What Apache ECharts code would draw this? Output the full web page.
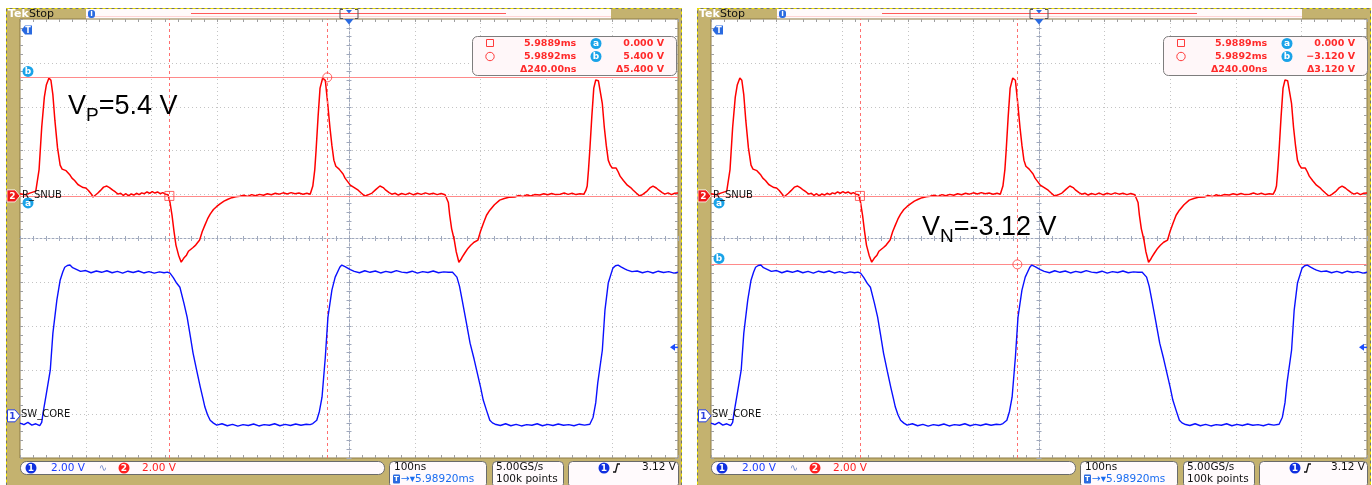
<!DOCTYPE html>
<html><head><meta charset="utf-8">
<script src="https://cdn.jsdelivr.net/npm/echarts@6/dist/echarts.min.js"></script>
<style>html,body{margin:0;padding:0;background:#fff}#c{width:1372px;height:485px}</style>
</head><body><div id="c"></div>
<script>
// ================= DATA =================
// Channel 2 (R_SNUB) samples: [time in ns relative to trigger, volts]
const rSnubSamples = [[-500,0.10],[-492,0.05],[-484,0.14],[-476,0.22],[-471,1.2],[-467,3.13],[-463,4.5],[-460,5.05],[-456,5.37],[-453,5.27],[-450,4.6],[-447,3.45],[-443,2.2],[-439,1.40],[-436,1.22],[-433,1.30],[-430,1.15],[-427,1.20],[-424,0.95],[-421,0.81],[-417,0.70],[-412,0.52],[-408,0.45],[-404,0.38],[-400,0.36],[-396,0.25],[-392,0.10],[-389,-0.05],[-386,0.02],[-382,0.12],[-378,0.24],[-373,0.40],[-368,0.45],[-364,0.38],[-359,0.26],[-355,0.18],[-351,0.08],[-347,0.12],[-343,0.02],[-339,0.10],[-335,0.00],[-331,0.09],[-327,0.04],[-323,0.12],[-319,0.06],[-315,0.14],[-311,0.10],[-307,0.18],[-303,0.12],[-299,0.20],[-295,0.13],[-291,0.18],[-287,0.10],[-283,0.15],[-279,0.08],[-275,0.05],[-272,-0.30],[-269,-0.87],[-266,-1.6],[-263,-2.24],[-259,-2.70],[-255,-3.02],[-251,-2.83],[-247,-2.70],[-244,-2.52],[-241,-2.44],[-237,-2.35],[-233,-2.24],[-230,-2.15],[-227,-2.01],[-223,-1.62],[-219,-1.33],[-215,-1.05],[-211,-0.83],[-206,-0.62],[-201,-0.48],[-196,-0.36],[-190,-0.24],[-184,-0.15],[-178,-0.08],[-172,-0.04],[-166,-0.01],[-160,0.03],[-154,-0.02],[-148,0.06],[-142,0.01],[-136,0.07],[-130,0.03],[-124,0.10],[-118,0.05],[-112,0.12],[-106,0.08],[-100,0.14],[-94,0.09],[-88,0.15],[-82,0.10],[-76,0.13],[-70,0.08],[-64,0.12],[-59,0.08],[-55,0.45],[-52,1.2],[-50,2.09],[-47,3.6],[-44,4.91],[-40,5.37],[-36,5.27],[-33,4.4],[-29,3.13],[-26,2.3],[-23,1.63],[-20,1.35],[-18,1.27],[-15,1.22],[-12,1.18],[-9,1.0],[-6,0.81],[-2,0.65],[2,0.49],[8,0.38],[14,0.26],[19,0.12],[24,-0.01],[29,0.05],[35,0.13],[41,0.30],[47,0.45],[52,0.38],[56,0.26],[61,0.15],[65,0.08],[70,0.12],[75,0.04],[80,0.11],[86,0.06],[92,0.13],[98,0.05],[104,0.12],[110,0.07],[116,0.14],[122,0.08],[128,0.12],[134,0.06],[140,0.11],[146,0.05],[149,0.04],[151,-0.30],[153,-0.87],[156,-1.5],[160,-2.01],[163,-2.55],[167,-3.02],[170,-2.90],[172,-2.79],[176,-2.60],[181,-2.38],[185,-2.25],[190,-2.11],[193,-2.05],[196,-2.01],[200,-1.60],[205,-1.19],[209,-0.88],[214,-0.65],[221,-0.40],[229,-0.19],[236,-0.12],[243,-0.06],[252,-0.05],[258,0.02],[264,-0.03],[270,0.05],[276,0.00],[282,0.06],[290,0.04],[296,0.10],[302,0.05],[308,0.11],[314,0.06],[321,0.08],[327,0.13],[333,0.07],[339,0.12],[345,0.06],[351,0.10],[357,0.08],[360,0.25],[362,0.45],[364,1.2],[366,2.09],[369,3.6],[372,4.91],[375,5.28],[377,5.32],[379,5.25],[381,5.18],[385,4.2],[388,3.13],[391,2.3],[394,1.63],[397,1.40],[400,1.27],[403,1.22],[406,1.27],[409,1.10],[412,0.90],[417,0.70],[423,0.49],[428,0.38],[432,0.26],[437,0.12],[442,-0.01],[447,0.08],[453,0.22],[458,0.38],[462,0.45],[467,0.36],[471,0.26],[476,0.15],[480,0.08],[485,0.14],[490,0.06],[495,0.12],[500,0.13]];

// Channel 1 (SW_CORE) samples: [time in ns relative to trigger, volts]
const swCoreSamples = [[-500,-0.33],[-494,-0.40],[-488,-0.30],[-482,-0.42],[-476,-0.36],[-470,-0.45],[-467,-0.30],[-465,0.12],[-460,1.0],[-454,2.08],[-450,3.77],[-444,5.27],[-439,6.18],[-435,6.55],[-432,6.77],[-428,6.85],[-424,6.87],[-420,6.75],[-416,6.70],[-413,6.64],[-408,6.58],[-400,6.62],[-392,6.52],[-384,6.60],[-376,6.54],[-368,6.61],[-360,6.52],[-352,6.58],[-344,6.50],[-336,6.59],[-328,6.53],[-320,6.60],[-312,6.51],[-304,6.57],[-296,6.50],[-288,6.56],[-281,6.52],[-276,6.55],[-272,6.50],[-267,6.30],[-262,6.05],[-257,5.86],[-251,5.15],[-246,4.5],[-241,3.6],[-237,2.86],[-231,2.0],[-226,1.31],[-222,0.8],[-219,0.4],[-215,0.05],[-211,-0.2],[-206,-0.33],[-201,-0.42],[-193,-0.36],[-185,-0.45],[-177,-0.39],[-169,-0.47],[-161,-0.40],[-153,-0.44],[-145,-0.37],[-137,-0.46],[-129,-0.40],[-121,-0.43],[-113,-0.36],[-105,-0.45],[-97,-0.39],[-89,-0.44],[-81,-0.37],[-73,-0.43],[-65,-0.38],[-59,-0.40],[-55,-0.35],[-49,-0.20],[-45,0.2],[-41,0.85],[-36,2.67],[-32,4.5],[-26,5.73],[-21,6.32],[-14,6.77],[-11,6.87],[-6,6.80],[-2,6.73],[2,6.66],[8,6.58],[16,6.52],[24,6.61],[32,6.54],[40,6.60],[48,6.51],[56,6.58],[64,6.53],[72,6.62],[80,6.55],[88,6.52],[96,6.59],[104,6.50],[112,6.57],[120,6.53],[128,6.60],[136,6.52],[144,6.56],[151,6.54],[157,6.55],[164,6.32],[168,5.90],[172,5.27],[178,4.30],[184,3.31],[190,2.60],[195,1.95],[200,1.30],[204,0.72],[209,0.25],[214,-0.20],[218,-0.32],[222,-0.38],[230,-0.44],[238,-0.36],[246,-0.45],[254,-0.39],[262,-0.46],[270,-0.40],[278,-0.43],[286,-0.36],[294,-0.45],[302,-0.39],[310,-0.44],[318,-0.37],[326,-0.43],[334,-0.40],[342,-0.45],[350,-0.38],[358,-0.42],[366,-0.38],[371,-0.06],[375,0.6],[378,1.49],[385,2.99],[389,4.82],[394,6.05],[401,6.73],[405,6.84],[409,6.87],[414,6.78],[419,6.70],[423,6.64],[430,6.57],[438,6.60],[446,6.52],[454,6.58],[462,6.51],[470,6.59],[478,6.53],[486,6.57],[494,6.50],[500,6.55]];

const channelNames = ['SW_CORE', 'R_SNUB'];
const timeRangeNs = [-500, 500];
const timePerDivNs = 100;
const divRange = [-5, 5];
const voltsPerDiv = [2, 2];            // ch1, ch2
const groundOffsetDiv = [-4.04, 0.97];  // ch1, ch2 position (divisions from centre)
const triggerTimeMs = 5.98920;
const triggerLevelV = 3.12;
const cursorTimesNs = [-273, -33];
const leftCursorVolts = [0, 5.4];
const rightCursorVolts = [0, -3.12];
const leftNote = ['V', 'P', '=5.4 V'];
const rightNote = ['V', 'N', '=-3.12 V'];
const sampleRateText = ['5.00GS/s', '100k points'];

// ================= STYLE / LAYOUT =================
const FONT = '"DejaVu Sans", sans-serif';
const TAN = '#c4b26f', BORDER = '#8c7b47';
const RED = '#ff0000', BLUE = '#0a10ff', CYAN = '#1aa3e8', TBLUE = '#2a6ae0';
const GRID_DOT = '#c4c4c4', EDGE_TICK = '#a0a0a0', CENTER = '#9fa8bc';
const panels = [
  {ox: 0, frameX: 6, frameW: 675, grid: {left: 20, top: 19, width: 658, height: 439}, cursorVolts: leftCursorVolts, note: leftNote, noteX: 68, noteY: 107},
  {ox: 691, frameX: 697, frameW: 673, grid: {left: 711, top: 19, width: 656, height: 439}, cursorVolts: rightCursorVolts, note: rightNote, noteX: 922, noteY: 228}
];

const chart = echarts.init(document.getElementById('c'), null, {renderer: 'canvas', width: 1372, height: 485});

function chMin(i) { return (divRange[0] - groundOffsetDiv[i]) * voltsPerDiv[i]; }
function chMax(i) { return (divRange[1] - groundOffsetDiv[i]) * voltsPerDiv[i]; }

const grids = [], xAxes = [], yAxes = [], series = [];
panels.forEach((p, gi) => {
  grids.push(Object.assign({show: true, backgroundColor: '#fff', borderColor: BORDER, borderWidth: 1}, p.grid));
  const bx = gi * 4, by = gi * 6;
  const tBase = {type: 'value', gridIndex: gi, min: timeRangeNs[0], max: timeRangeNs[1], interval: timePerDivNs, axisLabel: {show: false}};
  const dBase = {type: 'value', gridIndex: gi, min: divRange[0], max: divRange[1], interval: 1, axisLabel: {show: false}};
  const edge = {axisTick: {show: true, inside: true, length: 3, lineStyle: {color: EDGE_TICK}}, minorTick: {show: true, splitNumber: 5, length: 3, lineStyle: {color: EDGE_TICK}}};
  const ctr = {axisTick: {show: true, inside: true, length: 2.5, lineStyle: {color: CENTER}}, minorTick: {show: true, splitNumber: 5, length: 2.5, lineStyle: {color: CENTER}}};
  const dots = {show: true, showMinLine: false, showMaxLine: false, lineStyle: {color: GRID_DOT, width: 1, type: [1, 3]}};
  // x axes
  xAxes.push(Object.assign({}, tBase, edge, {position: 'bottom', axisLine: {show: false, onZero: false}, splitLine: dots}));
  xAxes.push(Object.assign({}, tBase, edge, {position: 'top', axisLine: {show: false, onZero: false}, splitLine: {show: false}}));
  xAxes.push(Object.assign({}, tBase, ctr, {position: 'bottom', axisLine: {show: true, onZero: true, onZeroAxisIndex: by, lineStyle: {color: CENTER, type: [2, 2]}}, splitLine: {show: false}}));
  xAxes.push(Object.assign({}, tBase, ctr, {position: 'top', axisLine: {show: true, onZero: true, onZeroAxisIndex: by, lineStyle: {color: 'rgba(0,0,0,0)'}}, splitLine: {show: false}}));
  // y axes
  yAxes.push(Object.assign({}, dBase, edge, {position: 'left', axisLine: {show: false, onZero: false}, splitLine: dots}));
  yAxes.push(Object.assign({}, dBase, edge, {position: 'right', axisLine: {show: false, onZero: false}, splitLine: {show: false}}));
  yAxes.push(Object.assign({}, dBase, ctr, {position: 'left', axisLine: {show: true, onZero: true, onZeroAxisIndex: bx, lineStyle: {color: CENTER, type: [2, 2]}}, splitLine: {show: false}}));
  yAxes.push(Object.assign({}, dBase, ctr, {position: 'right', axisLine: {show: true, onZero: true, onZeroAxisIndex: bx, lineStyle: {color: 'rgba(0,0,0,0)'}}, splitLine: {show: false}}));
  yAxes.push({type: 'value', gridIndex: gi, min: chMin(0), max: chMax(0), show: false, axisLine: {onZero: false}, splitLine: {show: false}});
  yAxes.push({type: 'value', gridIndex: gi, min: chMin(1), max: chMax(1), show: false, axisLine: {onZero: false}, splitLine: {show: false}});

  series.push({
    type: 'line', name: channelNames[1], xAxisIndex: bx, yAxisIndex: by + 5, data: rSnubSamples,
    showSymbol: false, symbol: 'none', lineStyle: {color: RED, width: 1.5}, itemStyle: {color: RED}, z: 4, silent: true,
    markLine: {
      silent: true, symbol: ['none', 'none'], animation: false, label: {show: false}, emphasis: {disabled: true},
      data: [
        {yAxis: p.cursorVolts[0], lineStyle: {color: '#ff8a8a', width: 1, type: 'solid'}},
        {yAxis: p.cursorVolts[1], lineStyle: {color: '#ff8a8a', width: 1, type: 'solid'}},
        {xAxis: cursorTimesNs[0], lineStyle: {color: '#ff6f6f', width: 1, type: [3, 3]}},
        {xAxis: cursorTimesNs[1], lineStyle: {color: '#ff6f6f', width: 1, type: [3, 3]}}
      ]
    }
  });
  series.push({
    type: 'line', name: channelNames[0], xAxisIndex: bx, yAxisIndex: by + 4, data: swCoreSamples,
    showSymbol: false, symbol: 'none', lineStyle: {color: BLUE, width: 1.4}, itemStyle: {color: BLUE}, z: 5, silent: true
  });
  series.push({
    type: 'scatter', xAxisIndex: bx, yAxisIndex: by + 5, silent: true, z: 6, symbolSize: 9,
    itemStyle: {color: 'rgba(255,255,255,0)', borderColor: '#ff3b3b', borderWidth: 1},
    data: [
      {value: [cursorTimesNs[0], p.cursorVolts[0]], symbol: 'rect'},
      {value: [cursorTimesNs[1], p.cursorVolts[1]], symbol: 'circle'}
    ]
  });
});

chart.setOption({animation: false, backgroundColor: '#fff', grid: grids, xAxis: xAxes, yAxis: yAxes, series: series});

// ================= DECORATIONS =================
function T(x, y, text, o) {
  o = o || {};
  return {type: 'text', x: x, y: y, z: o.z || 60, silent: true,
    style: {text: text, fill: o.fill || '#000', font: o.font || ('10px ' + FONT), align: o.align || 'left', verticalAlign: 'middle'}};
}
function badge(cx, cy, ch, fill, r) {
  r = r || 5.5;
  return [
    {type: 'circle', shape: {cx: cx, cy: cy, r: r}, style: {fill: fill}, z: 58, silent: true},
    T(cx, cy + 0.5, ch, {fill: '#fff', font: 'bold 9px ' + FONT, align: 'center', z: 59})
  ];
}
const mctx = document.createElement('canvas').getContext('2d');
function tw(text, font) { mctx.font = font; return mctx.measureText(text).width; }
function fmtV(v) { return v.toFixed(3).replace('-', '\u2212') + ' V'; }

const graphics = [];
panels.forEach((p, gi) => {
  const g = graphics;
  const ox = p.ox, gx = p.grid.left, gy = p.grid.top, gw = p.grid.width, gh = p.grid.height;
  const bx = gi * 4, by = gi * 6;
  const cx = chart.convertToPixel({xAxisIndex: bx}, 0);
  const y2 = chart.convertToPixel({yAxisIndex: by + 5}, 0);
  const y1 = chart.convertToPixel({yAxisIndex: by + 4}, 0);
  const yTrig = chart.convertToPixel({yAxisIndex: by + 4}, triggerLevelV);
  const yA = chart.convertToPixel({yAxisIndex: by + 5}, p.cursorVolts[0]);
  const yB = chart.convertToPixel({yAxisIndex: by + 5}, p.cursorVolts[1]);

  // frame
  g.push({type: 'rect', shape: {x: p.frameX + 0.5, y: 8.5, width: p.frameW, height: 477}, style: {fill: TAN, stroke: '#707070', lineWidth: 1}, z: -10, silent: true});
  g.push({type: 'rect', shape: {x: p.frameX + 0.5, y: 8.5, width: p.frameW, height: 477}, style: {fill: null, stroke: '#f0e400', lineWidth: 1, lineDash: [3, 3]}, z: -9, silent: true});
  // header
  g.push({type: 'rect', shape: {x: ox + 86, y: 9, width: 525, height: 10}, style: {fill: '#fffafa'}, z: -8, silent: true});
  g.push({type: 'line', shape: {x1: ox + 86, y1: 16.5, x2: ox + 611, y2: 16.5}, style: {stroke: '#ffd4d4', lineWidth: 1}, z: -7, silent: true});
  g.push({type: 'line', shape: {x1: ox + 191, y1: 13.5, x2: ox + 506, y2: 13.5}, style: {stroke: '#ff5a5a', lineWidth: 1}, z: -7, silent: true});
  g.push(T(ox + 8, 14.5, 'Tek', {fill: '#fff', font: 'bold 11px ' + FONT}));
  g.push(T(ox + 29, 14.5, 'Stop', {fill: '#111', font: '11px ' + FONT}));
  g.push({type: 'rect', shape: {x: ox + 88, y: 10, width: 7, height: 8, r: 3}, style: {fill: TBLUE}, z: 58, silent: true});
  g.push(T(ox + 91.5, 14.5, 'I', {fill: '#fff', font: 'bold 7px ' + FONT, align: 'center'}));
  g.push({type: 'polyline', shape: {points: [[cx - 6, 9.5], [cx - 9, 9.5], [cx - 9, 18.5], [cx - 6, 18.5]]}, style: {stroke: '#555', fill: null, lineWidth: 1}, z: 58, silent: true});
  g.push({type: 'polyline', shape: {points: [[cx + 6, 9.5], [cx + 9, 9.5], [cx + 9, 18.5], [cx + 6, 18.5]]}, style: {stroke: '#555', fill: null, lineWidth: 1}, z: 58, silent: true});
  g.push({type: 'polygon', shape: {points: [[cx - 3, 10], [cx + 3, 10], [cx, 13.5]]}, style: {fill: TBLUE}, z: 58, silent: true});
  g.push({type: 'polygon', shape: {points: [[cx - 4.5, gy], [cx + 4.5, gy], [cx, gy + 5.5]]}, style: {fill: TBLUE}, z: 58, silent: true});
  // T tab on plot top-left
  g.push({type: 'polygon', shape: {points: [[gx + 1.5, 30], [gx + 5, 25.5], [gx + 12, 25.5], [gx + 12, 34.5], [gx + 5, 34.5]]}, style: {fill: TBLUE}, z: 58, silent: true});
  g.push(T(gx + 8, 30.5, 'T', {fill: '#fff', font: 'bold 8px ' + FONT, align: 'center', z: 59}));
  // channel ground markers + labels
  g.push({type: 'polygon', shape: {points: [[ox + 7, y2 - 6], [ox + 15, y2 - 6], [ox + 20, y2], [ox + 15, y2 + 6], [ox + 7, y2 + 6]]}, style: {fill: '#f01818', stroke: '#fff', lineWidth: 0.8}, z: 58, silent: true});
  g.push(T(ox + 12.5, y2 + 0.5, '2', {fill: '#fff', font: 'bold 9px ' + FONT, align: 'center', z: 59}));
  g.push(T(gx + 2, y2 - 0.5, channelNames[1], {fill: '#111', font: '10px ' + FONT}));
  g.push({type: 'polygon', shape: {points: [[ox + 7.5, y1 - 6], [ox + 15, y1 - 6], [ox + 20, y1], [ox + 15, y1 + 6], [ox + 7.5, y1 + 6]]}, style: {fill: '#fff', stroke: '#2a40e0', lineWidth: 1}, z: 58, silent: true});
  g.push(T(ox + 12.5, y1 + 0.5, '1', {fill: '#2a40e0', font: 'bold 9px ' + FONT, align: 'center', z: 59}));
  g.push(T(gx + 1, y1 - 1, channelNames[0], {fill: '#111', font: '10px ' + FONT}));
  // cursor badges on left edge
  g.push(...badge(gx + 8, yA + 7, 'a', CYAN));
  g.push(...badge(gx + 8, yB - 6, 'b', CYAN));
  // trigger level arrow on right edge
  g.push({type: 'polygon', shape: {points: [[gx + gw - 8, yTrig], [gx + gw - 3, yTrig - 3.5], [gx + gw - 3, yTrig + 3.5]]}, style: {fill: '#1a4cff'}, z: 58, silent: true});
  g.push({type: 'line', shape: {x1: gx + gw - 3, y1: yTrig, x2: gx + gw, y2: yTrig}, style: {stroke: '#1a4cff', lineWidth: 1.5}, z: 58, silent: true});

  // cursor readout box
  const rf = 'bold 9.5px ' + FONT, rc = '#ff2a2a';
  g.push({type: 'rect', shape: {x: ox + 472.5, y: 36.5, width: 204, height: 39, r: 5}, style: {fill: '#fff7f9', stroke: '#7d7d7d', lineWidth: 1}, z: 55, silent: true});
  g.push({type: 'rect', shape: {x: ox + 486.5, y: 39.5, width: 7, height: 7}, style: {fill: null, stroke: '#ff3c3c', lineWidth: 1}, z: 58, silent: true});
  g.push({type: 'circle', shape: {cx: ox + 490, cy: 56.5, r: 4.2}, style: {fill: null, stroke: '#ff3c3c', lineWidth: 1}, z: 58, silent: true});
  const tA = (triggerTimeMs + cursorTimesNs[0] / 1e6).toFixed(4) + 'ms';
  const tB = (triggerTimeMs + cursorTimesNs[1] / 1e6).toFixed(4) + 'ms';
  const dT = '\u0394' + (cursorTimesNs[1] - cursorTimesNs[0]).toFixed(2) + 'ns';
  g.push(T(ox + 524, 43.5, tA, {fill: rc, font: rf}));
  g.push(T(ox + 524, 56.5, tB, {fill: rc, font: rf}));
  g.push(T(ox + 520, 69.5, dT, {fill: rc, font: rf}));
  g.push(...badge(ox + 596, 43.5, 'a', CYAN));
  g.push(...badge(ox + 596, 56.5, 'b', CYAN));
  g.push(T(ox + 664, 43.5, fmtV(p.cursorVolts[0]), {fill: rc, font: rf, align: 'right'}));
  g.push(T(ox + 664, 56.5, fmtV(p.cursorVolts[1]), {fill: rc, font: rf, align: 'right'}));
  g.push(T(ox + 664, 69.5, '\u0394' + fmtV(Math.abs(p.cursorVolts[1] - p.cursorVolts[0])), {fill: rc, font: rf, align: 'right'}));

  // annotation (V with subscript)
  const bigF = '27px "Liberation Sans", Arial, sans-serif', subF = '19px "Liberation Sans", Arial, sans-serif';
  let nx = p.noteX;
  g.push(T(nx, p.noteY, p.note[0], {font: bigF, fill: '#000', z: 70}));
  nx += tw(p.note[0], bigF);
  g.push(T(nx, p.noteY + 9, p.note[1], {font: subF, fill: '#000', z: 70}));
  nx += tw(p.note[1], subF);
  g.push(T(nx, p.noteY, p.note[2], {font: bigF, fill: '#000', z: 70}));

  // status bar
  const sf = '10.5px ' + FONT;
  g.push({type: 'rect', shape: {x: ox + 20.5, y: 461.5, width: 364, height: 13, r: 6}, style: {fill: '#fffafc', stroke: '#6a6a6a', lineWidth: 1}, z: 55, silent: true});
  g.push(...badge(ox + 31, 468, '1', '#1030e0'));
  g.push(T(ox + 51, 468, voltsPerDiv[0].toFixed(2) + ' V', {fill: '#1a3cff', font: sf}));
  g.push(T(ox + 103, 468, '\u223F', {fill: '#7088c8', font: '10px ' + FONT, align: 'center'}));
  g.push(...badge(ox + 124, 468, '2', '#ff2020'));
  g.push(T(ox + 142, 468, voltsPerDiv[1].toFixed(2) + ' V', {fill: '#ff2020', font: sf}));
  g.push({type: 'rect', shape: {x: ox + 389.5, y: 461.5, width: 97, height: 26, r: 4}, style: {fill: '#fffafc', stroke: '#6a6a6a', lineWidth: 1}, z: 55, silent: true});
  g.push(T(ox + 394, 467.5, timePerDivNs + 'ns', {fill: '#111', font: sf}));
  g.push({type: 'rect', shape: {x: ox + 393, y: 474.5, width: 7, height: 9, r: 1}, style: {fill: TBLUE}, z: 58, silent: true});
  g.push(T(ox + 396.5, 479.5, 'T', {fill: '#fff', font: 'bold 7px ' + FONT, align: 'center', z: 59}));
  g.push(T(ox + 401, 479.5, '\u2192\u25BE' + triggerTimeMs.toFixed(5) + 'ms', {fill: '#1a6cf0', font: sf}));
  g.push({type: 'rect', shape: {x: ox + 492.5, y: 461.5, width: 71, height: 26, r: 4}, style: {fill: '#fffafc', stroke: '#6a6a6a', lineWidth: 1}, z: 55, silent: true});
  g.push(T(ox + 496, 467.5, sampleRateText[0], {fill: '#111', font: sf}));
  g.push(T(ox + 496, 479.5, sampleRateText[1], {fill: '#111', font: sf}));
  g.push({type: 'rect', shape: {x: ox + 568.5, y: 461.5, width: gx + gw - ox - 568, height: 26, r: 4}, style: {fill: '#fffafc', stroke: '#6a6a6a', lineWidth: 1}, z: 55, silent: true});
  g.push(...badge(ox + 604, 468, '1', '#1030e0'));
  g.push({type: 'polyline', shape: {points: [[ox + 613, 472], [ox + 615.5, 472], [ox + 617.5, 464], [ox + 620, 464]]}, style: {stroke: '#111', fill: null, lineWidth: 1.3}, z: 58, silent: true});
  g.push(T(gx + gw - 2, 467.5, triggerLevelV.toFixed(2) + ' V', {fill: '#111', font: sf, align: 'right'}));
});

chart.setOption({graphic: {elements: graphics}});
</script>
</body></html>
